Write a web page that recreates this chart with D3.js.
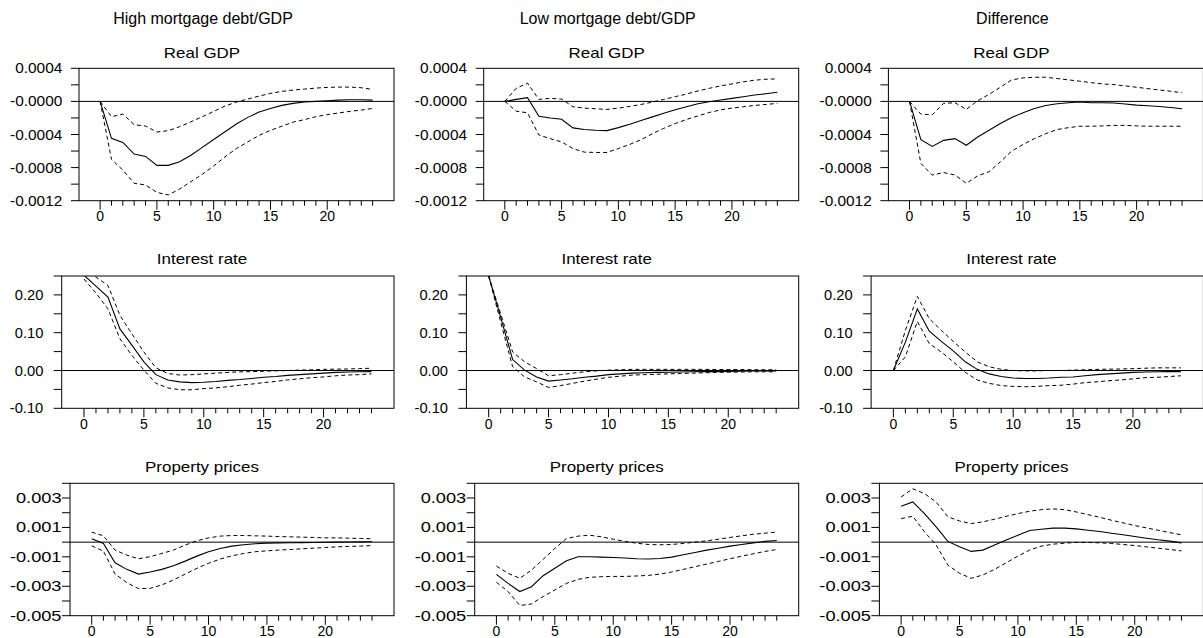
<!DOCTYPE html>
<html>
<head>
<meta charset="utf-8">
<script src="https://cdn.jsdelivr.net/npm/d3@7"></script>
<style>
  body { margin: 0; background: #fff; }
  svg { display: block; }
  text { font-family: "Liberation Sans", Arial, sans-serif; fill: #000; }
</style>
</head>
<body>
<svg id="chart" width="1203" height="638"></svg>
<script>
// Impulse responses over 24 quarters: point estimate and error bands
const horizons = d3.range(0, 25);
const columnHeaders = ["High mortgage debt/GDP", "Low mortgage debt/GDP", "Difference"];
const variableTitles = ["Real GDP", "Interest rate", "Property prices"];
const xTickValues = [0, 5, 10, 15, 20];

// Real GDP
const gdpHighMid = [0,-0.000447,-0.000495,-0.000636,-0.000665,-0.000773,-0.000773,-0.00073,-0.00065,-0.000556,-0.00046,-0.000367,-0.000274,-0.000193,-0.000129,-0.000085,-0.000048,-0.000024,-0.000008,0,0.000008,0.000016,0.00002,0.00002,0.000016];
const gdpHighUp  = [0,-0.000185,-0.000153,-0.000282,-0.000298,-0.00037,-0.000354,-0.000306,-0.000246,-0.000185,-0.000121,-0.000056,-0.000008,0.000028,0.000064,0.000097,0.000121,0.000137,0.000149,0.000161,0.000169,0.000173,0.000173,0.000165,0.000145];
const gdpHighLo  = [0,-0.0007,-0.00083,-0.00099,-0.00101,-0.0011,-0.00113,-0.00106,-0.00097,-0.00088,-0.00078,-0.00067,-0.00057,-0.00049,-0.00041,-0.00035,-0.0003,-0.00025,-0.00022,-0.000185,-0.00016,-0.00014,-0.00012,-0.000105,-0.000085];

const gdpLowMid = [0,0.000024,0.000045,-0.000179,-0.0002,-0.000215,-0.00032,-0.00034,-0.000349,-0.000353,-0.000317,-0.000276,-0.000231,-0.000187,-0.000142,-0.000102,-0.000065,-0.000028,-0.000004,0.000016,0.000037,0.000057,0.000077,0.000093,0.00011];
const gdpLowUp  = [0,0.000158,0.00022,0.000024,0.000037,0.000028,-0.000065,-0.000081,-0.000089,-0.000097,-0.000081,-0.000061,-0.000037,-0.000008,0.000024,0.000057,0.000089,0.000126,0.000158,0.000187,0.000211,0.000236,0.000256,0.000268,0.000272];
const gdpLowLo  = [0,-0.000118,-0.000138,-0.000406,-0.00045,-0.00049,-0.00057,-0.000613,-0.000617,-0.000617,-0.00057,-0.00052,-0.000463,-0.00039,-0.000325,-0.000268,-0.000219,-0.000175,-0.000134,-0.000102,-0.000081,-0.000065,-0.000049,-0.000037,-0.000024];

const gdpDiffMid = [0,-0.000463,-0.000544,-0.000471,-0.00045,-0.00053,-0.00043,-0.000349,-0.000268,-0.000195,-0.000138,-0.000085,-0.000049,-0.000028,-0.000016,-0.000008,-0.000016,-0.000016,-0.00002,-0.000032,-0.000045,-0.000053,-0.000061,-0.000073,-0.000089];
const gdpDiffUp  = [0,-0.000154,-0.000162,-0.000024,-0.000016,-0.000097,0.000008,0.000085,0.000171,0.00026,0.000284,0.000292,0.000292,0.000276,0.00026,0.000244,0.000227,0.000211,0.000203,0.000187,0.000171,0.000154,0.000138,0.000122,0.000106];
const gdpDiffLo  = [0,-0.00075,-0.00089,-0.00086,-0.00089,-0.00099,-0.0009,-0.00085,-0.00073,-0.0006,-0.00052,-0.00045,-0.00039,-0.00034,-0.000317,-0.0003,-0.0003,-0.000296,-0.00029,-0.00029,-0.000296,-0.0003,-0.0003,-0.0003,-0.0003];

// Interest rate
const rateHighMid = [0.252,0.223,0.194,0.11,0.067,0.023,-0.011,-0.025,-0.03,-0.032,-0.031,-0.029,-0.026,-0.024,-0.021,-0.018,-0.016,-0.013,-0.011,-0.009,-0.007,-0.005,-0.004,-0.0035,-0.003];
const rateHighUp  = [0.27,0.247,0.225,0.146,0.097,0.049,0.007,-0.008,-0.012,-0.011,-0.009,-0.007,-0.005,-0.0035,-0.003,-0.002,-0.001,0,0.001,0.002,0.003,0.0035,0.004,0.005,0.006];
const rateHighLo  = [0.242,0.205,0.163,0.084,0.04,0.001,-0.034,-0.046,-0.051,-0.051,-0.048,-0.046,-0.043,-0.039,-0.036,-0.032,-0.029,-0.025,-0.022,-0.019,-0.017,-0.014,-0.012,-0.011,-0.009];

const rateLowMid = [0.25,0.141,0.029,0.001,-0.017,-0.028,-0.025,-0.022,-0.018,-0.015,-0.011,-0.009,-0.007,-0.006,-0.005,-0.0045,-0.004,-0.0035,-0.003,-0.003,-0.0025,-0.002,-0.0015,-0.0015,-0.001];
const rateLowUp  = [0.25,0.15,0.049,0.023,0.005,-0.014,-0.011,-0.007,-0.0035,-0.001,0.001,0.002,0.003,0.003,0.003,0.003,0.003,0.003,0.003,0.0025,0.0025,0.0025,0.002,0.002,0.002];
const rateLowLo  = [0.25,0.128,0.01,-0.017,-0.03,-0.045,-0.04,-0.034,-0.028,-0.023,-0.018,-0.015,-0.012,-0.011,-0.01,-0.009,-0.008,-0.007,-0.006,-0.005,-0.0045,-0.004,-0.0035,-0.0035,-0.0035];

const rateDiffMid = [0,0.075,0.163,0.104,0.077,0.052,0.023,0.003,-0.009,-0.016,-0.02,-0.021,-0.021,-0.02,-0.018,-0.017,-0.014,-0.011,-0.009,-0.007,-0.005,-0.004,-0.0035,-0.003,-0.003];
const rateDiffUp  = [0,0.106,0.196,0.137,0.106,0.077,0.049,0.023,0.01,0.003,0,-0.001,-0.001,0,0,0.001,0.002,0.003,0.0035,0.004,0.005,0.006,0.007,0.007,0.007];
const rateDiffLo  = [0,0.036,0.13,0.071,0.049,0.023,-0.005,-0.025,-0.034,-0.04,-0.042,-0.043,-0.042,-0.04,-0.039,-0.036,-0.032,-0.03,-0.027,-0.025,-0.022,-0.019,-0.018,-0.016,-0.014];

// Property prices
const houseHighMid = [0.00023,-0.00009,-0.0014,-0.00185,-0.00217,-0.00203,-0.00185,-0.0016,-0.00129,-0.00095,-0.00065,-0.00043,-0.00027,-0.00018,-0.00011,-0.00007,-0.00005,-0.00004,-0.00003,-0.00002,-0.00001,0,0.00001,0.00002,0.00003];
const houseHighUp  = [0.00068,0.00043,-0.00054,-0.00088,-0.00113,-0.00099,-0.00077,-0.00054,-0.0002,0.00009,0.00029,0.00041,0.00045,0.00045,0.00043,0.00041,0.00038,0.00036,0.00034,0.00032,0.00029,0.00029,0.00027,0.00025,0.00023];
const houseHighLo  = [-0.00025,-0.00061,-0.00217,-0.00275,-0.00316,-0.00314,-0.00291,-0.00257,-0.00217,-0.00178,-0.00144,-0.00115,-0.00093,-0.00077,-0.00065,-0.00059,-0.00054,-0.0005,-0.00045,-0.00041,-0.00036,-0.00032,-0.00029,-0.00027,-0.00023];

const houseLowMid = [-0.00219,-0.0028,-0.00336,-0.00303,-0.00228,-0.00178,-0.00126,-0.00099,-0.00099,-0.00102,-0.00104,-0.00108,-0.00113,-0.00115,-0.00111,-0.00102,-0.00086,-0.0007,-0.00054,-0.00041,-0.00027,-0.00016,-0.00005,0.00005,0.00011];
const houseLowUp  = [-0.00163,-0.00212,-0.00246,-0.0019,-0.00117,-0.00043,0.00025,0.00041,0.00047,0.00036,0.0002,0.00005,-0.00007,-0.00016,-0.00018,-0.00016,-0.00009,0,0.00009,0.0002,0.00032,0.00043,0.00054,0.00061,0.00068];
const houseLowLo  = [-0.00273,-0.00336,-0.00431,-0.0042,-0.0037,-0.00325,-0.0028,-0.00253,-0.00239,-0.00235,-0.00233,-0.00233,-0.0023,-0.00226,-0.00217,-0.00203,-0.00185,-0.00167,-0.00149,-0.00131,-0.00113,-0.00095,-0.00079,-0.00063,-0.0005];

const houseDiffMid = [0.00244,0.00273,0.00194,0.00104,0.00005,-0.00032,-0.00063,-0.00054,-0.0002,0.00014,0.00047,0.00079,0.00088,0.00095,0.00095,0.0009,0.00081,0.00072,0.00061,0.0005,0.00038,0.00027,0.00016,0.00007,-0.00005];
const houseDiffUp  = [0.00307,0.00363,0.0033,0.00273,0.00172,0.00144,0.00126,0.00138,0.00156,0.00176,0.00194,0.0021,0.00221,0.00226,0.00221,0.00205,0.00187,0.00169,0.00149,0.00131,0.00113,0.00097,0.00081,0.00065,0.0005];
const houseDiffLo  = [0.0016,0.00176,0.0007,-0.0002,-0.00156,-0.00212,-0.00246,-0.00223,-0.00185,-0.0014,-0.00095,-0.00054,-0.00027,-0.00014,-0.00007,-0.00002,-0.00002,-0.00005,-0.00009,-0.00016,-0.00023,-0.00032,-0.00041,-0.0005,-0.00059];

// Y axis: domains, ticks and labels per variable
const gdpDomain = [-0.0012, 0.0004];
const gdpTicks = [0.0004, 0.0002, 0, -0.0002, -0.0004, -0.0006, -0.0008, -0.001, -0.0012];
const gdpTickLabels = ["0.0004", "", "-0.0000", "", "-0.0004", "", "-0.0008", "", "-0.0012"];

const rateDomain = [-0.10, 0.25];
const rateTicks = [0.25, 0.20, 0.15, 0.10, 0.05, 0, -0.05, -0.10];
const rateTickLabels = ["", "0.20", "", "0.10", "", "0.00", "", "-0.10"];

const houseDomain = [-0.005, 0.004];
const houseTicks = [0.004, 0.003, 0.002, 0.001, 0, -0.001, -0.002, -0.003, -0.004, -0.005];
const houseTickLabels = ["", "0.003", "", "0.001", "", "-0.001", "", "-0.003", "", "-0.005"];

const rowsData = [
  { domain: gdpDomain, ticks: gdpTicks, labels: gdpTickLabels,
    series: [[gdpHighMid, gdpHighUp, gdpHighLo], [gdpLowMid, gdpLowUp, gdpLowLo], [gdpDiffMid, gdpDiffUp, gdpDiffLo]] },
  { domain: rateDomain, ticks: rateTicks, labels: rateTickLabels,
    series: [[rateHighMid, rateHighUp, rateHighLo], [rateLowMid, rateLowUp, rateLowLo], [rateDiffMid, rateDiffUp, rateDiffLo]] },
  { domain: houseDomain, ticks: houseTicks, labels: houseTickLabels,
    series: [[houseHighMid, houseHighUp, houseHighLo], [houseLowMid, houseLowUp, houseLowLo], [houseDiffMid, houseDiffUp, houseDiffLo]] }
];

// Page geometry
const colStep = 404.7;
const rowBoxes = [
  { top: 68.3,  bottom: 200.7, left: 79,   labelEnd: 62.3, labelSx: 1.1,  titleY: 57.5 },
  { top: 276,   bottom: 408.3, left: 61.7, labelEnd: 43.3, labelSx: 1.05, titleY: 264.3 },
  { top: 483.3, bottom: 615.7, left: 70,   labelEnd: 61.5, labelSx: 1.3,  titleY: 471.7 }
];
const plotRight = 394;
const xDomain = [-1.86, 25.88];

const svg = d3.select("#chart");

// Column headers
columnHeaders.forEach((h, c) => {
  svg.append("text")
    .attr("x", 203 + c * colStep).attr("y", 24)
    .attr("text-anchor", "middle")
    .style("font-size", "16px")
    .text(h);
});

rowsData.forEach((row, r) => {
  const box = rowBoxes[r];
  row.series.forEach((trio, c) => {
    const off = c * colStep;
    const left = box.left + off;
    const right = plotRight + off;
    const x = d3.scaleLinear().domain(xDomain).range([left, right]);
    const y = d3.scaleLinear().domain(row.domain).range([box.bottom, box.top]);
    const g = svg.append("g");

    // Panel title
    g.append("text")
      .attr("transform", `translate(${202 + off},${box.titleY}) scale(1.13,1)`)
      .attr("text-anchor", "middle")
      .style("font-size", "15px")
      .text(variableTitles[r]);

    // Frame
    g.append("rect")
      .attr("x", left).attr("y", box.top)
      .attr("width", right - left).attr("height", box.bottom - box.top)
      .attr("fill", "none").attr("stroke", "#000").attr("stroke-width", 1);

    // Y ticks and labels
    row.ticks.forEach((t, i) => {
      g.append("line")
        .attr("x1", left - 8).attr("x2", left)
        .attr("y1", y(t)).attr("y2", y(t))
        .attr("stroke", "#000").attr("stroke-width", 1);
      if (row.labels[i]) {
        g.append("text")
          .attr("transform", `translate(${box.labelEnd + off},${y(t)}) scale(${box.labelSx},1)`)
          .attr("text-anchor", "end")
          .attr("dy", "0.36em")
          .style("font-size", "14px")
          .text(row.labels[i]);
      }
    });

    // X ticks and labels
    horizons.forEach(h => {
      const major = xTickValues.includes(h);
      g.append("line")
        .attr("x1", x(h)).attr("x2", x(h))
        .attr("y1", box.bottom).attr("y2", box.bottom + (major ? 9 : 5))
        .attr("stroke", "#000").attr("stroke-width", 1);
    });
    xTickValues.forEach(v => {
      g.append("text")
        .attr("x", x(v)).attr("y", box.bottom + 20.5)
        .attr("text-anchor", "middle")
        .style("font-size", "14px")
        .text(v);
    });

    // Zero line
    g.append("line")
      .attr("x1", left).attr("x2", right)
      .attr("y1", y(0)).attr("y2", y(0))
      .attr("stroke", "#000").attr("stroke-width", 1);

    // Clipped response lines
    const clipId = `clip-${r}-${c}`;
    g.append("clipPath").attr("id", clipId)
      .append("rect")
      .attr("x", left).attr("y", box.top)
      .attr("width", right - left).attr("height", box.bottom - box.top);

    const line = d3.line().x((d, i) => x(horizons[i])).y(d => y(d));
    const lines = g.append("g").attr("clip-path", `url(#${clipId})`);
    [trio[1], trio[2]].forEach(band => {
      lines.append("path")
        .attr("d", line(band))
        .attr("fill", "none").attr("stroke", "#000")
        .attr("stroke-width", 1).attr("stroke-dasharray", "4,3");
    });
    lines.append("path")
      .attr("d", line(trio[0]))
      .attr("fill", "none").attr("stroke", "#000").attr("stroke-width", 1.1);
  });
});
</script>
</body>
</html>
